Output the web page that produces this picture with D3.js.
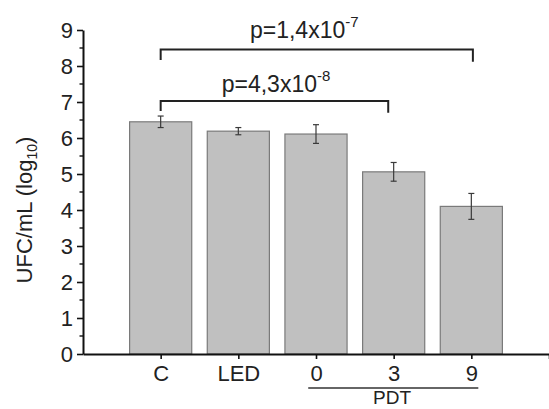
<!DOCTYPE html>
<html>
<head>
<meta charset="utf-8">
<script src="https://cdn.jsdelivr.net/npm/d3@7"></script>
<style>
  html, body { margin: 0; padding: 0; background: #ffffff; }
  svg text { font-family: "Liberation Sans", Arial, Helvetica, sans-serif; fill: #222; }
</style>
</head>
<body>
<svg id="chart" width="549" height="409"></svg>
<script>
// ---- data ----
const categories = ["C", "LED", "0", "3", "9"];
const means = [6.45, 6.19, 6.11, 5.06, 4.10];
const errors = [0.16, 0.10, 0.26, 0.26, 0.36];
const yTicks = [0, 1, 2, 3, 4, 5, 6, 7, 8, 9];
const groupLabel = "PDT";
// significance annotations (category positions 1..5, values in log10 units)
const pMantissa = ["p=1,4x10", "p=4,3x10"];
const pExponent = ["-7", "-8"];
const bracketFrom = [1, 1];
const bracketTo = [5.02, 3.93];
const bracketLevel = [8.46, 7.03];
const bracketLegFrom = [8.17, 6.75];
const bracketLegTo = [8.12, 6.70];
const pTextX = [2.15, 1.786];
const pTextY = [8.77, 7.27];

// ---- layout ----
const svg = d3.select("#chart");
const x = d3.scaleLinear().domain([0, 6]).range([83, 549]);
const y = d3.scaleLinear().domain([0, 9]).range([354, 30]);
const pos = categories.map((c, i) => i + 1);
const barW = x(0.8) - x(0);

// bars
svg.append("g").selectAll("rect").data(means).join("rect")
  .attr("x", (d, i) => x(pos[i]) - barW / 2)
  .attr("y", d => y(d))
  .attr("width", barW)
  .attr("height", d => y(0) - y(d))
  .attr("fill", "#c0c0c0")
  .attr("stroke", "#7a7a7a")
  .attr("stroke-width", 1.2);

// error bars
const eg = svg.append("g").attr("stroke", "#3a3a3a").attr("stroke-width", 1.2);
means.forEach((m, i) => {
  const cx = x(pos[i]);
  eg.append("line").attr("x1", cx).attr("x2", cx).attr("y1", y(m - errors[i])).attr("y2", y(m + errors[i]));
  eg.append("line").attr("x1", cx - 3).attr("x2", cx + 3).attr("y1", y(m + errors[i])).attr("y2", y(m + errors[i]));
  eg.append("line").attr("x1", cx - 3).attr("x2", cx + 3).attr("y1", y(m - errors[i])).attr("y2", y(m - errors[i]));
});

// y axis
const yAxis = d3.axisLeft(y).tickValues(yTicks).tickSize(6).tickSizeOuter(0).tickPadding(4).tickFormat(d3.format("d"));
const ya = svg.append("g").attr("transform", `translate(${x(0)},0)`).call(yAxis);
ya.select(".domain").attr("stroke", "#111").attr("stroke-width", 2);
ya.selectAll(".tick line").attr("stroke", "#111").attr("stroke-width", 1.6);
ya.selectAll(".tick text").style("font-size", "22px").attr("fill", "#222");
// minor ticks
const minor = d3.range(0.5, 9, 1);
svg.append("g").selectAll("line").data(minor).join("line")
  .attr("x1", x(0) - 3.5).attr("x2", x(0))
  .attr("y1", d => y(d)).attr("y2", d => y(d))
  .attr("stroke", "#111").attr("stroke-width", 1.4);

// x axis
const xAxis = d3.axisBottom(x).tickValues([1, 2, 3, 4, 5, 6]).tickSize(5).tickSizeOuter(0).tickPadding(6)
  .tickFormat(d => categories[d - 1] || "");
const xa = svg.append("g").attr("transform", `translate(0,${y(0)})`).call(xAxis);
xa.select(".domain").attr("stroke", "#111").attr("stroke-width", 2);
xa.selectAll(".tick line").attr("stroke", "#111").attr("stroke-width", 1.6);
xa.selectAll(".tick text").style("font-size", "22px").attr("fill", "#222");

// PDT group underline and label
svg.append("line")
  .attr("x1", x(2.9)).attr("x2", x(5.09))
  .attr("y1", 388).attr("y2", 388)
  .attr("stroke", "#333").attr("stroke-width", 1.5);
svg.append("text").attr("x", x(3.98)).attr("y", 404)
  .attr("text-anchor", "middle").style("font-size", "19px").text(groupLabel);

// brackets
const bg = svg.append("g").attr("fill", "none").attr("stroke", "#222").attr("stroke-width", 2);
bracketFrom.forEach((f, i) => {
  const path = d3.path();
  path.moveTo(x(f), y(bracketLegFrom[i]));
  path.lineTo(x(f), y(bracketLevel[i]));
  path.lineTo(x(bracketTo[i]), y(bracketLevel[i]));
  path.lineTo(x(bracketTo[i]), y(bracketLegTo[i]));
  bg.append("path").attr("d", path.toString());
  const t = svg.append("text").attr("x", x(pTextX[i])).attr("y", y(pTextY[i]))
    .style("font-size", "23px");
  t.append("tspan").text(pMantissa[i]);
  t.append("tspan").attr("dy", -11).style("font-size", "15px").text(pExponent[i]);
});

// y label
const yl = svg.append("text")
  .attr("transform", "translate(32,210) rotate(-90)")
  .attr("text-anchor", "middle")
  .style("font-size", "22px");
yl.append("tspan").text("UFC/mL (log");
yl.append("tspan").attr("dy", 5).style("font-size", "14px").text("10");
yl.append("tspan").attr("dy", -5).text(")");
</script>
</body>
</html>
